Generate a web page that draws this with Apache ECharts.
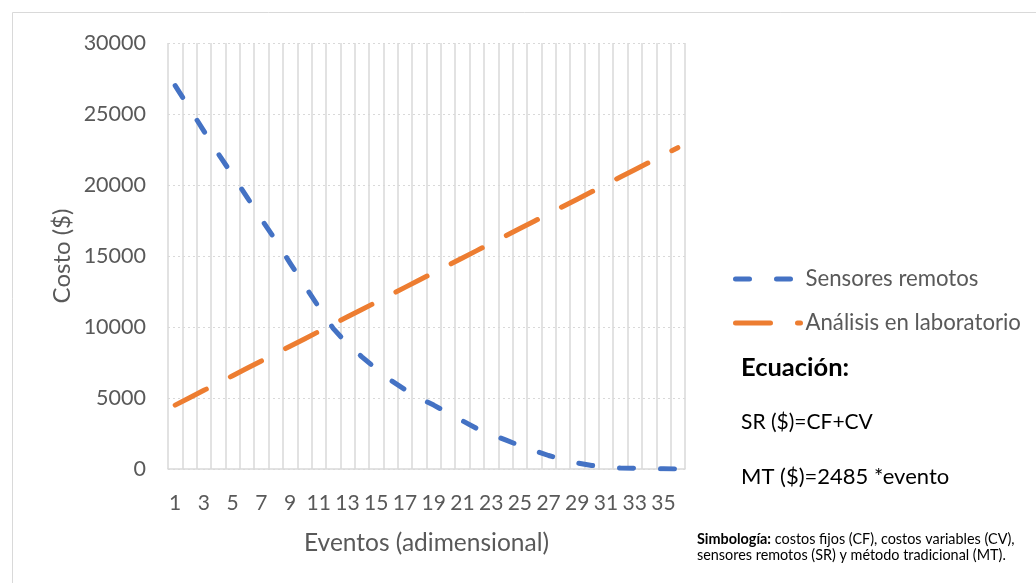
<!DOCTYPE html>
<html lang="es">
<head>
<meta charset="utf-8">
<title>Costo por evento: sensores remotos vs. análisis en laboratorio</title>
<script src="https://cdn.jsdelivr.net/npm/echarts@6/dist/echarts.min.js"></script>
<style>
  html, body { margin: 0; padding: 0; background: #ffffff; }
  #chart { width: 1036px; height: 583px; }
</style>
</head>
<body>
<div id="chart"></div>
<script>
// Eventos (eje X)
const eventos = ['1','2','3','4','5','6','7','8','9','10','11','12','13','14','15','16','17','18',
                 '19','20','21','22','23','24','25','26','27','28','29','30','31','32','33','34','35','36'];

// Costo ($) con sensores remotos
const sensoresRemotos = [27000, 25400, 23800, 22200, 20700, 19150, 17600, 16100, 14500, 12950,
                         11400, 9900, 8800, 7900, 7050, 6250, 5600, 5000, 4500, 3950,
                         3400, 2850, 2450, 2050, 1650, 1300, 950, 680, 430, 250,
                         120, 70, 50, 30, 10, 0];

// Costo ($) con análisis en laboratorio
const analisisLaboratorio = [4500, 5020, 5540, 6050, 6570, 7090, 7610, 8130, 8640, 9160,
                             9680, 10200, 10720, 11230, 11750, 12270, 12790, 13310, 13820, 14340,
                             14860, 15380, 15900, 16410, 16930, 17450, 17970, 18490, 19000, 19520,
                             20040, 20560, 21080, 21590, 22110, 22630];

// Marcas del eje Y
const yMin = 0, yMax = 30000, yStep = 5000;

const seriesNames = ['Sensores remotos', 'Análisis en laboratorio'];
const textColor = '#595959';
const fontFamily = 'Lato, "Open Sans", sans-serif';

const chart = echarts.init(document.getElementById('chart'), null, { renderer: 'canvas' });

chart.setOption({
  backgroundColor: '#ffffff',
  animation: false,
  textStyle: { fontFamily: fontFamily },
  grid: { left: 168, right: 351, top: 43, bottom: 114, containLabel: false },
  xAxis: {
    type: 'category',
    data: eventos,
    boundaryGap: true,
    name: 'Eventos (adimensional)',
    nameLocation: 'middle',
    nameGap: 62,
    nameTextStyle: { color: textColor, fontSize: 24.5, fontFamily: fontFamily },
    axisLine: { show: true, lineStyle: { color: '#d9d9d9', width: 1.5 } },
    axisTick: { show: false },
    axisLabel: { interval: 1, color: textColor, fontSize: 21, margin: 24, fontFamily: fontFamily },
    splitLine: { show: true, interval: 0, lineStyle: { color: '#d9d9d9', width: 1.5, type: 'solid' } }
  },
  yAxis: {
    type: 'value',
    min: yMin,
    max: yMax,
    interval: yStep,
    name: 'Costo ($)',
    nameLocation: 'middle',
    nameGap: 94,
    nameTextStyle: { color: textColor, fontSize: 24, fontFamily: fontFamily },
    axisLine: { show: false },
    axisTick: { show: false },
    axisLabel: {
      color: textColor, fontSize: 21.5, margin: 22, fontFamily: fontFamily,
      formatter: function (v) { return String(v); }
    },
    splitLine: { show: true, lineStyle: { color: '#d9d9d9', width: 1.2, type: [2, 3] } }
  },
  legend: {
    orient: 'vertical',
    left: 733,
    top: 267,
    padding: 0,
    itemGap: 20,
    itemWidth: 65,
    itemHeight: 14,
    data: seriesNames,
    itemStyle: { opacity: 0 },
    lineStyle: { width: 5, cap: 'round', type: 'inherit' },
    textStyle: { color: textColor, fontSize: 22.2, lineHeight: 24, fontFamily: fontFamily, padding: [0, 0, 0, 0] }
  },
  series: [
    {
      name: seriesNames[0],
      type: 'line',
      data: sensoresRemotos,
      symbol: 'none',
      showSymbol: false,
      color: '#4472C4',
      lineStyle: { color: '#4472C4', width: 5, type: [14, 27], cap: 'round', join: 'round' },
      z: 3
    },
    {
      name: seriesNames[1],
      type: 'line',
      data: analisisLaboratorio,
      symbol: 'none',
      showSymbol: false,
      color: '#ED7D31',
      lineStyle: { color: '#ED7D31', width: 5, type: [35, 27], cap: 'round', join: 'round' },
      z: 2
    }
  ],
  graphic: [
    {
      type: 'rect',
      silent: true,
      shape: { x: 12.5, y: 12.5, width: 1040, height: 600 },
      style: { fill: 'none', stroke: '#d9d9d9', lineWidth: 1 },
      z: -10
    },
    {
      type: 'text',
      left: 741, top: 355,
      style: { text: 'Ecuación:', fill: '#000000', font: 'bold 25.5px ' + fontFamily }
    },
    {
      type: 'text',
      left: 741, top: 412,
      style: { text: 'SR ($)=CF+CV', fill: '#000000', font: '21px ' + fontFamily }
    },
    {
      type: 'text',
      left: 741, top: 466,
      style: { text: 'MT ($)=2485 *evento', fill: '#000000', font: '22px ' + fontFamily }
    },
    {
      type: 'text',
      left: 697, top: 531,
      style: {
        text: '{b|Simbología:} costos fijos (CF), costos variables (CV),\nsensores remotos (SR) y método tradicional (MT).',
        fill: '#000000',
        font: '14.4px ' + fontFamily,
        lineHeight: 16,
        rich: {
          b: { fontWeight: 'bold', fontSize: 14.4, fontFamily: fontFamily, fill: '#000000', lineHeight: 16 }
        }
      }
    }
  ]
});
</script>
</body>
</html>
